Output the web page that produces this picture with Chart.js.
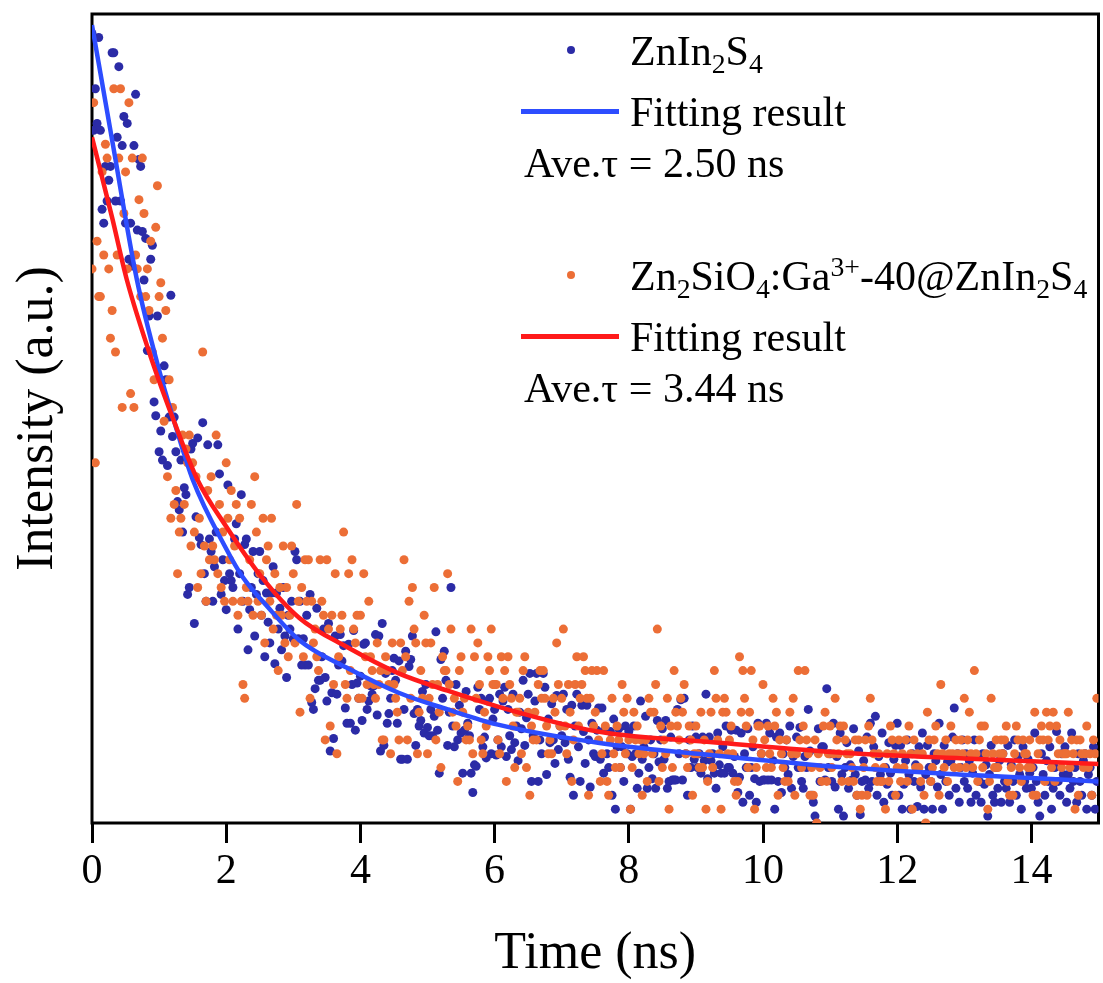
<html>

<head>
    <meta charset="utf-8">
    <title>Fluorescence decay</title>
    <script src="https://cdn.jsdelivr.net/npm/chart.js@4.4.1/dist/chart.umd.min.js"></script>
    <style>
        body { margin: 0; background: #fff; }
        #wrap { position: relative; width: 1103px; height: 983px; }
        #myChart { position: absolute; left: 0; top: 0; }
        .lg { position: absolute; font-family: "Liberation Serif", "Times New Roman", serif; font-size: 42px; line-height: 42px; color: #000; white-space: nowrap; }
        .lg sub { font-size: 0.66em; vertical-align: -0.3em; line-height: 0; }
        .lg sup { font-size: 0.66em; vertical-align: 0.5em; line-height: 0; }
        .dot { position: absolute; width: 8px; height: 8px; border-radius: 50%; }
        .bar { position: absolute; width: 98px; height: 5px; }
    </style>
</head>

<body>
    <div id="wrap">
        <canvas id="myChart" width="1103" height="983"></canvas>
        <span class="dot" style="left:567px;top:46px;background:#2b2ba6"></span>
        <div class="lg" style="left:630px;top:30px">ZnIn<sub>2</sub>S<sub>4</sub></div>
        <span class="bar" style="left:521px;top:109px;background:#2d4dff"></span>
        <div class="lg" style="left:630px;top:91px">Fitting result</div>
        <div class="lg" style="left:524px;top:142px">Ave.τ = 2.50 ns</div>
        <span class="dot" style="left:567px;top:271px;background:#ec6e36"></span>
        <div class="lg" style="left:630px;top:255px">Zn<sub>2</sub>SiO<sub>4</sub>:Ga<sup>3+</sup>-40@ZnIn<sub>2</sub>S<sub>4</sub></div>
        <span class="bar" style="left:521px;top:334px;background:#ff1a1a"></span>
        <div class="lg" style="left:630px;top:316px">Fitting result</div>
        <div class="lg" style="left:524px;top:367px">Ave.τ = 3.44 ns</div>
    </div>
    <script>
        // time bins (ns) and counts
        const timeStep = 0.025;
        const xTicks = [0, 2, 4, 6, 8, 10, 12, 14];

        // ZnIn2S4 (blue dots), 20 bins per 0.5 ns row
        const zisValues = [
            57.0, 50.0, 53.0, 50.5, 56.7, 50.0, 44.3, 43.3, 47.4, 44.9, 46.4, 47.4, 55.6, 55.6, 44.9, 49.5, 54.6, 44.9, 48.9, 51.0,
            43.3, 50.5, 40.7, 43.3, 40.2, 48.9, 52.6, 42.8, 47.9, 47.4, 42.7, 39.2, 42.2, 34.1, 36.6, 40.7, 41.7, 30.4, 29.4, 36.6,
            26.8, 28.3, 26.2, 33.0, 32.0, 25.8, 29.3, 38.1, 27.9, 29.3, 26.8, 23.2, 22.6, 26.2, 21.0, 24.2, 23.7, 16.5, 17.0, 27.0,
            27.4, 14.4, 22.1, 27.8, 20.6, 20.1, 28.9, 18.0, 16.0, 27.3, 20.5, 19.6, 16.0, 18.5, 21.0, 27.3, 25.2, 16.5, 19.0, 17.5,
            15.4, 24.4, 18.0, 17.5, 17.0, 20.5, 21.6, 14.0, 18.0, 23.7, 16.0, 20.1, 20.5, 12.5, 15.4, 17.0, 19.6, 13.5, 16.5, 18.0,
            19.6, 15.0, 17.5, 12.0, 16.6, 14.5, 13.0, 16.6, 18.5, 11.5, 16.6, 14.0, 15.5, 12.5, 17.0, 13.5, 10.5, 15.0, 14.0, 16.0,
            13.3, 19.6, 19.0, 13.3, 16.0, 11.4, 13.3, 11.4, 15.0, 11.4, 16.5, 8.7, 8.2, 9.7, 15.5, 10.3, 10.3, 12.0, 14.0, 10.5,
            8.8, 14.4, 5.2, 9.4, 6.1, 13.5, 9.3, 11.4, 13.6, 11.7, 12.8, 8.3, 7.2, 12.9, 7.2, 10.0, 13.9, 6.7, 10.1, 9.0,
            10.6, 7.4, 12.9, 13.0, 8.2, 8.8, 9.9, 9.3, 9.9, 13.6, 7.8, 13.5, 5.2, 14.4, 5.6, 10.8, 7.2, 7.9, 9.0, 11.0,
            11.9, 10.3, 7.2, 11.7, 4.6, 4.6, 8.2, 12.4, 4.6, 11.3, 11.8, 13.5, 7.9, 5.6, 8.2, 7.0, 7.4, 9.5, 6.5, 10.0,
            6.9, 6.3, 8.2, 6.3, 7.7, 13.8, 6.7, 3.6, 11.8, 9.0, 12.4, 10.3, 5.6, 8.0, 17.0, 7.0, 5.5, 10.0, 6.0, 8.5,
            6.5, 3.6, 6.7, 9.5, 7.2, 6.3, 3.6, 2.2, 4.2, 4.1, 9.8, 8.2, 9.0, 5.5, 6.2, 4.7, 8.8, 9.0, 5.0, 7.5,
            8.2, 4.9, 6.0, 9.3, 5.5, 8.8, 9.8, 4.8, 8.2, 6.3, 5.3, 9.3, 5.8, 7.0, 4.5, 8.0, 6.8, 10.3, 5.6, 7.6,
            9.3, 10.8, 3.0, 6.3, 8.8, 10.8, 3.0, 6.0, 5.0, 10.8, 9.8, 3.5, 7.5, 5.8, 8.6, 6.0, 4.3, 9.2, 5.3, 7.0,
            6.3, 9.3, 5.8, 8.2, 4.6, 3.3, 8.5, 2.0, 7.0, 9.3, 5.5, 3.0, 8.5, 6.6, 4.3, 8.5, 6.0, 2.6, 7.2, 5.0,
            4.8, 6.7, 8.3, 4.6, 8.3, 3.6, 6.8, 5.0, 4.0, 6.6, 2.0, 7.5, 1.0, 5.5, 6.8, 4.0, 5.5, 3.0, 7.0, 5.0,
            6.6, 1.0, 4.8, 7.0, 5.0, 2.5, 3.6, 8.8, 4.6, 5.5, 7.7, 2.5, 4.0, 6.0, 3.2, 5.0, 2.5, 7.4, 4.4, 6.0,
            6.8, 4.6, 7.4, 2.5, 3.0, 6.2, 3.1, 3.1, 3.1, 8.2, 5.0, 8.9, 3.1, 9.0, 5.0, 2.0, 6.0, 4.0, 7.0, 4.6,
            6.2, 4.0, 5.0, 3.6, 6.2, 4.5, 9.3, 3.2, 6.2, 4.5, 5.0, 3.6, 2.5, 6.5, 4.2, 3.6, 5.5, 3.6, 7.0, 4.0,
            4.0, 6.7, 3.6, 4.8, 6.7, 2.2, 3.3, 6.5, 1.5, 5.0, 4.0, 6.8, 2.0, 4.0, 5.5, 3.2, 1.5, 7.2, 3.0, 5.0,
            3.1, 3.1, 7.2, 3.1, 6.5, 3.1, 4.5, 1.0, 6.2, 3.0, 6.5, 2.2, 5.0, 4.0, 6.0, 3.5, 7.0, 2.5, 4.8, 5.0,
            6.2, 4.0, 6.9, 3.0, 2.5, 4.8, 4.0, 8.2, 5.2, 2.0, 1.5, 0.5, 0.0, 6.8, 3.0, 5.5, 5.5, 3.1, 9.7, 4.0,
            5.0, 3.0, 7.2, 2.6, 4.8, 1.0, 6.5, 3.5, 0.5, 4.0, 5.8, 2.5, 4.2, 3.1, 6.8, 3.5, 2.0, 5.2, 0.6, 3.0,
            4.5, 3.1, 6.2, 2.5, 7.2, 3.0, 5.5, 7.7, 2.0, 4.8, 3.5, 6.5, 1.5, 4.0, 2.8, 5.8, 3.6, 2.0, 4.6, 5.6,
            7.2, 2.0, 5.6, 1.0, 2.8, 4.5, 6.0, 3.5, 1.0, 5.0, 3.0, 4.2, 1.2, 5.5, 2.6, 6.5, 1.0, 3.5, 5.6, 4.0,
            3.0, 1.0, 5.0, 4.5, 2.6, 7.2, 3.5, 1.0, 5.6, 3.0, 4.4, 2.0, 4.5, 6.2, 8.3, 2.5, 5.0, 1.5, 4.0, 6.0,
            3.0, 5.0, 2.5, 4.5, 1.5, 3.6, 6.0, 2.0, 4.8, 3.0, 1.5, 5.0, 2.8, 4.2, 0.5, 3.5, 5.6, 2.0, 1.5, 4.0,
            2.5, 4.5, 1.5, 5.0, 3.0, 2.5, 5.6, 1.5, 4.2, 3.0, 6.0, 2.0, 4.8, 3.5, 1.0, 5.5, 3.0, 2.5, 4.6, 3.6,
            2.5, 4.0, 6.5, 3.0, 1.5, 0.5, 5.0, 3.5, 2.0, 4.5, 3.0, 5.5, 1.0, 2.5, 4.0, 6.6, 3.0, 2.0, 5.0, 3.5,
            5.5, 1.5, 3.5, 2.5, 6.5, 3.0, 4.0, 1.5, 5.0, 3.0, 2.0, 4.5, 5.0, 1.0, 3.5, 4.0, 2.0, 5.5, 1.0, 3.0
        ];

        // Zn2SiO4:Ga3+-40@ZnIn2S4 (orange dots)
        const zsgValues = [
            40, 52, 26, 42, 38, 38, 47, 41, 49, 48, 40, 35, 37, 53, 34, 41, 48, 53, 30, 44,
            47, 40, 52, 31, 48, 30, 41, 40, 45, 38, 48, 44, 38, 40, 37, 42, 34, 32, 43, 46,
            38, 39, 35, 29, 37, 25, 32, 22, 30, 23, 24, 18, 21, 22, 28, 23, 27, 26, 28, 20,
            26, 21, 25, 17, 22, 18, 34, 20, 16, 24, 19, 25, 20, 19, 28, 18, 23, 17, 21, 16,
            26, 22, 19, 24, 16, 20, 23, 15, 22, 16, 10, 9, 17, 16, 19, 23, 15, 25, 21, 16,
            18, 15, 22, 13, 19, 20, 16, 22, 14, 18, 15, 11, 17, 15, 20, 13, 17, 12, 15, 20,
            18, 13, 23, 16, 8, 17, 12, 19, 16, 19, 9, 16, 13, 14, 12, 11, 19, 16, 15, 6,
            19, 14, 7, 15, 10, 18, 5, 12, 14, 15, 21, 10, 9, 18, 11, 19, 14, 13, 15, 9,
            15, 9, 18, 12, 10, 16, 12, 11, 10, 9, 13, 10, 11, 6, 6, 12, 11, 10, 5, 13,
            10, 9, 8, 6, 13, 11, 19, 12, 6, 16, 9, 17, 14, 13, 5, 8, 11, 9, 15, 13,
            5, 9, 13, 10, 17, 6, 10, 8, 4, 12, 11, 11, 18, 10, 14, 8, 9, 7, 3, 11,
            12, 8, 9, 6, 7, 6, 14, 5, 12, 9, 13, 10, 6, 5, 8, 7, 12, 11, 14, 10,
            10, 10, 6, 5, 12, 9, 11, 3, 12, 10, 9, 7, 4, 8, 8, 9, 5, 11, 12, 4,
            8, 2, 7, 6, 8, 6, 10, 11, 9, 11, 9, 7, 5, 6, 5, 9, 8, 13, 10, 7,
            9, 14, 7, 5, 10, 8, 3, 6, 10, 12, 7, 9, 10, 12, 11, 9, 2, 9, 11, 7,
            8, 11, 6, 3, 5, 11, 7, 3, 2, 6, 9, 5, 4, 7, 6, 4, 10, 8, 5, 9,
            6, 1, 4, 8, 6, 7, 5, 6, 2, 5, 6, 3, 9, 8, 5, 8, 10, 14, 3, 7,
            4, 6, 5, 9, 1, 7, 4, 11, 8, 7, 6, 9, 8, 10, 5, 4, 7, 6, 2, 5,
            7, 5, 4, 8, 4, 6, 1, 3, 5, 8, 4, 11, 9, 6, 5, 1, 8, 9, 8, 5,
            6, 7, 5, 3, 2, 3, 12, 8, 11, 9, 7, 4, 8, 11, 6, 1, 4, 7, 7, 5,
            10, 6, 4, 7, 5, 4, 9, 7, 8, 2, 6, 5, 4, 3, 6, 3, 8, 5, 9, 2,
            5, 11, 6, 4, 7, 11, 6, 5, 2, 4, 2, 6, 0, 5, 4, 3, 7, 8, 3, 5,
            7, 4, 5, 9, 6, 5, 7, 3, 7, 6, 5, 3, 5, 4, 3, 6, 2, 6, 1, 2,
            4, 6, 2, 7, 9, 6, 5, 4, 3, 5, 3, 3, 4, 1, 5, 3, 7, 6, 5, 2,
            4, 6, 3, 5, 4, 6, 3, 7, 5, 1, 6, 4, 5, 4, 3, 5, 2, 0, 8, 6,
            3, 4, 6, 7, 5, 2, 10, 5, 4, 6, 3, 5, 7, 5, 4, 6, 5, 4, 6, 5,
            9, 4, 6, 8, 5, 4, 11, 5, 3, 6, 7, 4, 7, 5, 1, 3, 9, 5, 4, 6,
            4, 5, 6, 5, 6, 7, 3, 2, 4, 2, 5, 7, 6, 4, 3, 6, 5, 5, 4, 6,
            4, 2, 8, 2, 5, 6, 7, 6, 3, 8, 6, 7, 4, 8, 3, 7, 5, 6, 4, 5,
            5, 5, 8, 4, 6, 5, 1, 6, 2, 6, 5, 4, 5, 7, 4, 5, 2, 6, 5, 9
        ];

        // fitting curves, read at a few times
        const zisFitTimes = [0, 0.3, 0.67, 1.0, 1.23, 1.5, 2.0, 2.24, 2.6, 3.09, 3.8, 4.57, 5.3, 6.05, 7.54, 9.4, 11.25, 13.1, 15];
        const zisFitValues = [57.6, 49.3, 39.2, 32.7, 28.9, 24.8, 19.8, 17.8, 15.7, 13.2, 11.2, 9.4, 8.2, 7.1, 5.8, 4.82, 4.0, 3.46, 3.0];
        const zsgFitTimes = [0, 0.3, 0.52, 0.9, 1.23, 1.57, 2.0, 2.52, 3.09, 3.8, 4.57, 5.3, 6.05, 7.54, 9.4, 11.25, 13.1, 15];
        const zsgFitValues = [49.5, 43.7, 39.2, 33.3, 28.9, 24.8, 21.4, 17.8, 14.8, 12.7, 10.8, 9.55, 8.4, 6.6, 5.77, 5.05, 4.64, 4.26];

        const FONT = "'Liberation Serif', 'Times New Roman', serif";

        const boxPlugin = {
            id: 'box',
            beforeDatasetsDraw(chart) {
                const a = chart.chartArea;
                const c = chart.ctx;
                c.save();
                c.strokeStyle = '#000';
                c.lineWidth = 3;
                c.strokeRect(a.left, a.top, a.right - a.left, a.bottom - a.top);
                c.restore();
            }
        };

        const ctx = document.getElementById('myChart');
        const data = {
            datasets: [
                {
                    type: 'line',
                    data: zsgFitTimes.map((t, i) => ({ x: t, y: zsgFitValues[i] })),
                    borderColor: '#ff1a1a',
                    borderWidth: 4.5,
                    pointRadius: 0,
                    cubicInterpolationMode: 'monotone',
                    order: 0
                },
                {
                    type: 'line',
                    data: zisFitTimes.map((t, i) => ({ x: t, y: zisFitValues[i] })),
                    borderColor: '#2d4dff',
                    borderWidth: 4.5,
                    pointRadius: 0,
                    cubicInterpolationMode: 'monotone',
                    order: 1
                },
                {
                    type: 'scatter',
                    data: zsgValues.map((v, i) => ({ x: i * timeStep, y: v })),
                    backgroundColor: '#ec6e36',
                    pointRadius: 4.5,
                    pointBorderWidth: 0,
                    order: 2
                },
                {
                    type: 'scatter',
                    data: zisValues.map((v, i) => ({ x: i * timeStep, y: v })),
                    backgroundColor: '#2b2ba6',
                    pointRadius: 4.5,
                    pointBorderWidth: 0,
                    order: 3
                }
            ]
        };

        const config = {
            data: data,
            options: {
                responsive: false,
                animation: false,
                devicePixelRatio: 1,
                layout: { padding: { top: 14, right: 2, left: 0, bottom: 0 } },
                plugins: {
                    legend: { display: false },
                    tooltip: { enabled: false }
                },
                scales: {
                    x: {
                        type: 'linear',
                        position: 'bottom',
                        min: 0,
                        max: 15,
                        afterFit: s => { s.height = 160; },
                        afterBuildTicks: s => { s.ticks = xTicks.map(v => ({ value: v })); },
                        grid: { drawOnChartArea: false, drawTicks: true, tickLength: 20, tickWidth: 3, tickColor: '#000' },
                        border: { display: false },
                        ticks: { color: '#000', font: { family: FONT, size: 42 }, padding: 4, maxRotation: 0 },
                        title: { display: true, text: 'Time (ns)', color: '#000', font: { family: FONT, size: 52, lineHeight: 1 }, padding: { top: 3, bottom: 3 } }
                    },
                    y: {
                        min: 0,
                        max: 58.4,
                        afterFit: s => { s.width = 92; },
                        grid: { display: false },
                        border: { display: false },
                        ticks: { display: false },
                        title: { display: true, text: 'Intensity (a.u.)', color: '#000', font: { family: FONT, size: 52, lineHeight: 1 }, padding: { top: 12, bottom: 12 } }
                    }
                }
            },
            plugins: [boxPlugin]
        };
        const myChart = new Chart(ctx, config);
    </script>
</body>

</html>
